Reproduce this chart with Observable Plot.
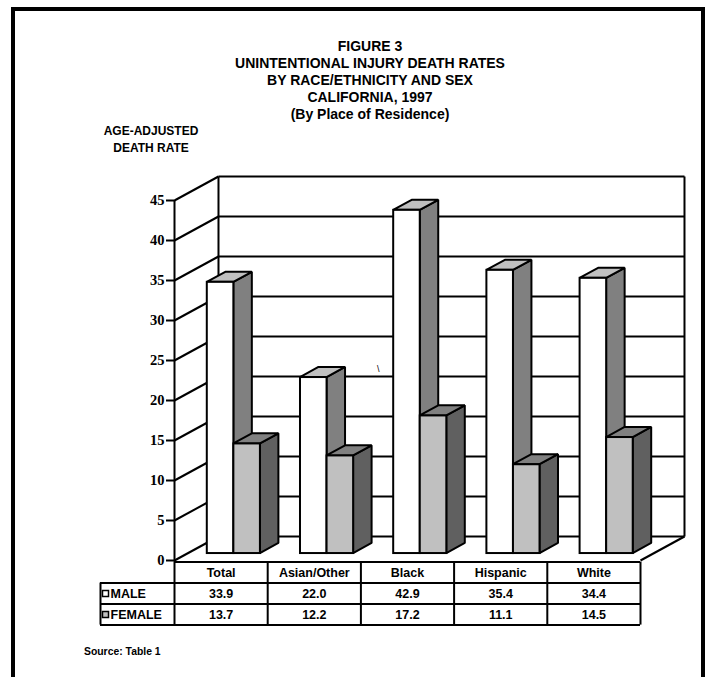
<!DOCTYPE html>
<html><head><meta charset="utf-8">
<script src="https://cdn.jsdelivr.net/npm/d3@7"></script>
<script src="https://cdn.jsdelivr.net/npm/@observablehq/plot@0.6"></script>
<style>
body{margin:0;background:#fff;}
#wrap{position:relative;width:710px;height:677px;overflow:hidden;font-family:"Liberation Sans",Arial,sans-serif;font-weight:bold;color:#000;}
#chart{position:absolute;left:0;top:0;}
#frame{position:absolute;left:11px;top:7px;width:686px;height:720px;border:4px solid #000;border-bottom:none;}
#title{position:absolute;left:170px;width:400px;top:38px;text-align:center;font-size:14px;line-height:17px;}
#ylab{position:absolute;left:91px;width:120px;top:123px;text-align:center;font-size:12px;line-height:17px;}
#source{position:absolute;left:84px;top:646px;font-size:10.4px;}
#stray{position:absolute;left:377px;top:364px;font-size:9px;font-weight:normal;}
</style></head>
<body>
<div id="wrap">
  <div id="chart"></div>
  <div id="title"></div>
  <div id="ylab"></div>
  <div id="source"></div>
  <div id="stray">\</div>
  <div id="frame"></div>
</div>
<script>
// ---- data ----
const titleLines = ["FIGURE 3", "UNINTENTIONAL INJURY DEATH RATES", "BY RACE/ETHNICITY AND SEX", "CALIFORNIA, 1997", "(By Place of Residence)"];
const yLabelLines = ["AGE-ADJUSTED", "DEATH RATE"];
const sourceText = "Source: Table 1";
const categories = ["Total", "Asian/Other", "Black", "Hispanic", "White"];
const male = [33.9, 22.0, 42.9, 35.4, 34.4];
const female = [13.7, 12.2, 17.2, 11.1, 14.5];
const seriesNames = ["MALE", "FEMALE"];
const yTicks = [0, 5, 10, 15, 20, 25, 30, 35, 40, 45];

document.getElementById("title").innerHTML = titleLines.join("<br>");
document.getElementById("ylab").innerHTML = yLabelLines.join("<br>");
document.getElementById("source").textContent = sourceText;

// ---- 3D geometry (in data units) ----
const YMAX = 45;
const N = categories.length;
const DX = 0.472, DY = 3;      // full depth of the box
const F0 = 0.29, FD = 0.42;    // bar front depth and bar thickness (fractions of depth)
const slots = [[0.215, 0.5], [0.5, 0.785]];
const styles = [
  {front: "#ffffff", side: "#808080", top: "#c0c0c0"},
  {front: "#c0c0c0", side: "#606060", top: "#808080"}
];
const seriesValues = [male, female];

function barRects(k) {
  return categories.map((c, i) => {
    const v = seriesValues[k][i];
    return {c, v, x1: i + slots[k][0] + F0 * DX, x2: i + slots[k][1] + F0 * DX, y0: F0 * DY};
  });
}
function sidePts(k) {
  return barRects(k).flatMap(b => [
    {c: b.c, x: b.x2, y1: b.y0, y2: b.v + b.y0},
    {c: b.c, x: b.x2 + FD * DX, y1: b.y0 + FD * DY, y2: b.v + b.y0 + FD * DY}
  ]);
}
function topPts(k) {
  return barRects(k).flatMap(b => [
    {c: b.c, y: b.v + b.y0, x1: b.x1, x2: b.x2},
    {c: b.c, y: b.v + b.y0 + FD * DY, x1: b.x1 + FD * DX, x2: b.x2 + FD * DX}
  ]);
}

const SW = 2;
const barMarks = [0, 1].flatMap(k => [
  Plot.areaY(sidePts(k), {x: "x", y1: "y1", y2: "y2", z: "c", fill: styles[k].side, stroke: "#000", strokeWidth: SW, strokeLinejoin: "miter"}),
  Plot.areaX(topPts(k), {y: "y", x1: "x1", x2: "x2", z: "c", fill: styles[k].top, stroke: "#000", strokeWidth: SW, strokeLinejoin: "miter"}),
  Plot.rect(barRects(k), {x1: "x1", x2: "x2", y1: "y0", y2: d => d.v + d.y0, fill: styles[k].front, stroke: "#000", strokeWidth: SW})
]);

// ---- table geometry ----
const ROW = 21 / 8;            // row height in y units (21px)
const TL = -0.794;             // table left edge in x units
const rowB = [-0.2, -0.2 - ROW, -0.2 - 2 * ROW, -0.2 - 3 * ROW];
const rowMid = r => -0.2 - (r + 0.5) * ROW;
const colLines = d3.range(0, N + 1);

const font = "Liberation Sans, Arial, sans-serif";
const TFS = 12.5;
const tableText = {fontSize: TFS, fontWeight: "bold", fill: "#000"};

const plot = Plot.plot({
  width: 710, height: 677,
  marginLeft: 174, marginRight: 70, marginTop: 200, marginBottom: 117,
  x: {domain: [0, N], axis: null},
  y: {domain: [0, YMAX], axis: null},
  style: {fontFamily: font, background: "transparent"},
  marks: [
    // back wall grid
    Plot.link(yTicks, {x1: DX, x2: N + DX, y1: v => v + DY, y2: v => v + DY, stroke: "#000", strokeWidth: SW}),
    // left wall diagonals
    Plot.link(yTicks, {x1: 0, y1: v => v, x2: DX, y2: v => v + DY, stroke: "#000", strokeWidth: SW}),
    // back wall vertical edges
    Plot.link([0, N], {x1: d => d + DX, x2: d => d + DX, y1: DY, y2: YMAX + DY, stroke: "#000", strokeWidth: SW}),
    // floor right diagonal
    Plot.link([N], {x1: d => d, y1: 0, x2: d => d + DX, y2: DY, stroke: "#000", strokeWidth: SW}),
    ...barMarks,
    // front axis
    Plot.ruleX([0], {y1: rowB[0], y2: YMAX, stroke: "#000", strokeWidth: SW}),
    Plot.axisY(yTicks, {tickSize: 8, strokeWidth: SW, tickFormat: () => "", label: null}),
    Plot.text(yTicks, {x: 0, y: d => d, dx: -10, text: d => String(d), textAnchor: "end", fontSize: 14.5, fontWeight: "bold", fontFamily: "Liberation Serif", fill: "#000"}),
    // table lines
    Plot.ruleY([rowB[0]], {x1: 0, x2: N, stroke: "#000", strokeWidth: SW}),
    Plot.ruleY(rowB.slice(1), {x1: TL, x2: N, stroke: "#000", strokeWidth: SW}),
    Plot.ruleX(colLines, {y1: rowB[0], y2: rowB[3], stroke: "#000", strokeWidth: SW}),
    Plot.ruleX([TL], {y1: rowB[1], y2: rowB[3], stroke: "#000", strokeWidth: SW}),
    // table text
    Plot.text(categories, {x: (d, i) => i + 0.5, y: rowMid(0), text: d => d, ...tableText}),
    Plot.text(male, {x: (d, i) => i + 0.5, y: rowMid(1), text: d => d.toFixed(1), ...tableText}),
    Plot.text(female, {x: (d, i) => i + 0.5, y: rowMid(2), text: d => d.toFixed(1), ...tableText}),
    Plot.text(seriesNames, {x: TL, y: (d, i) => rowMid(i + 1), text: d => d, dx: 10, textAnchor: "start", ...tableText}),
    Plot.dot(seriesNames, {x: TL, y: (d, i) => rowMid(i + 1), dx: 5, symbol: "square", r: 3.4, fill: (d, i) => styles[i].front, stroke: "#000", strokeWidth: 1.5})
  ]
});
document.getElementById("chart").appendChild(plot);
</script>
</body></html>
